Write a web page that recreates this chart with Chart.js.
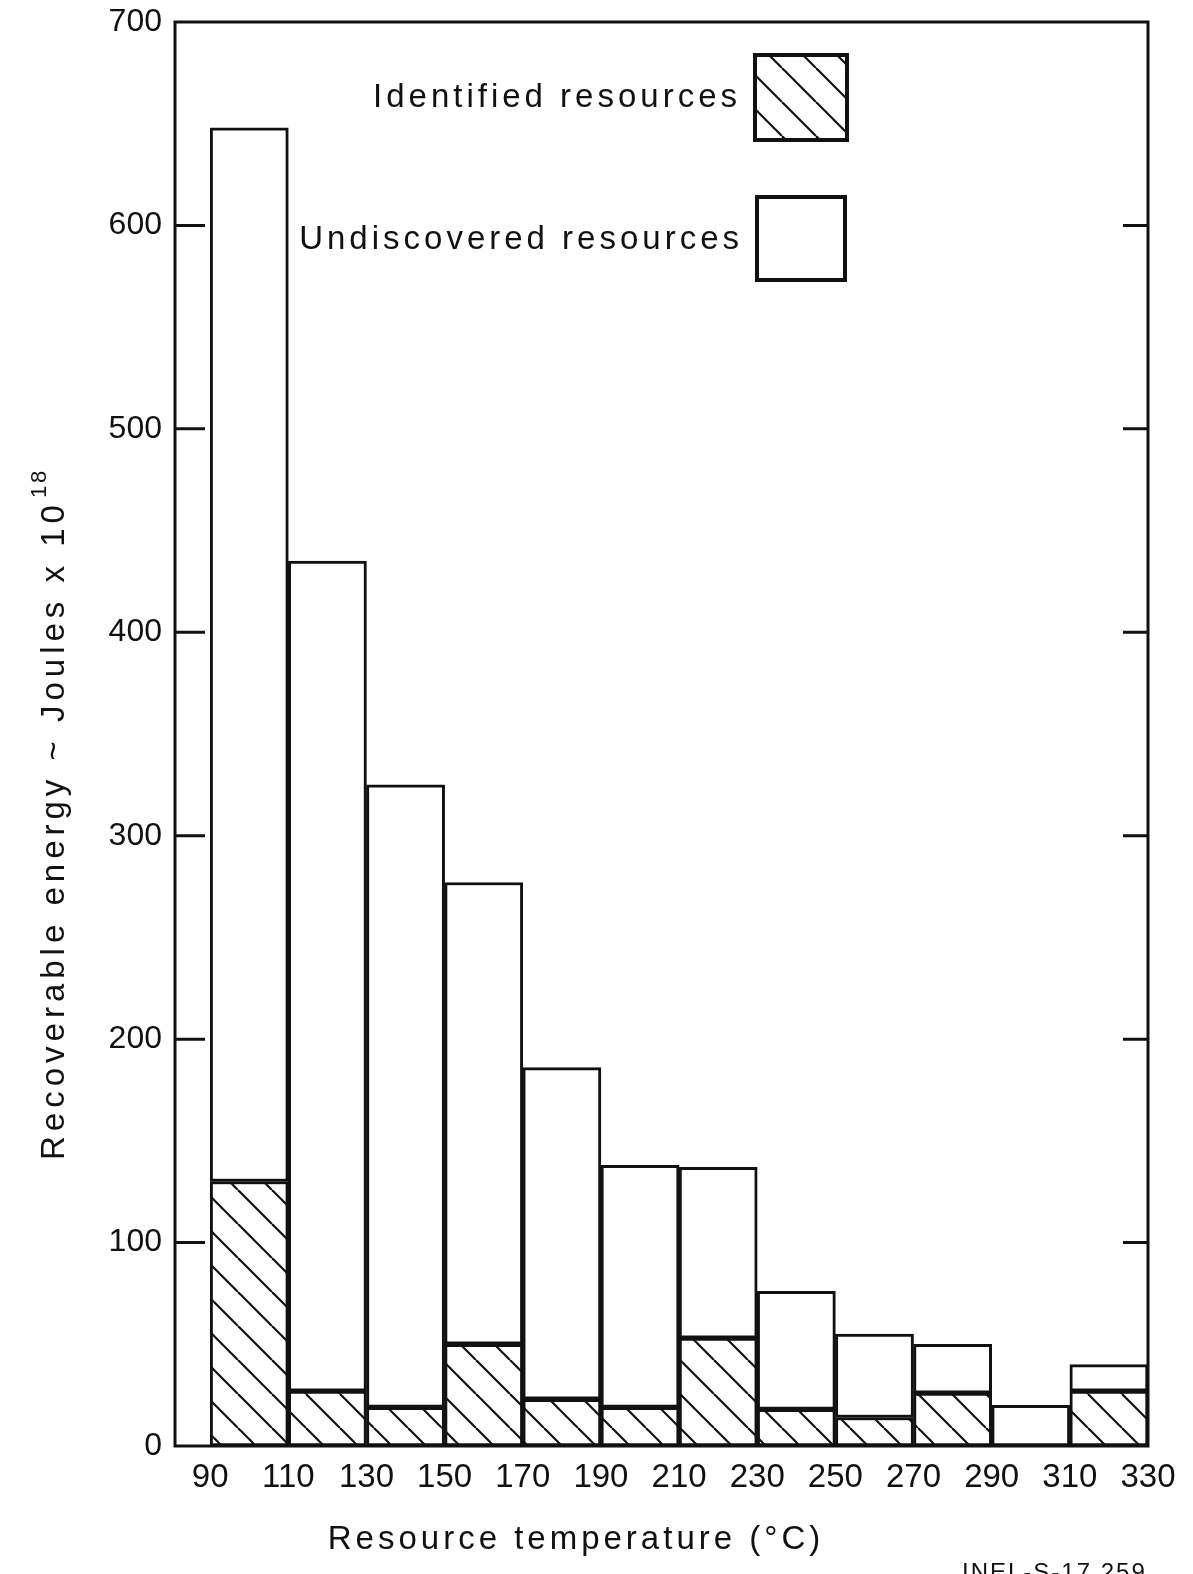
<!DOCTYPE html>
<html>
<head>
<meta charset="utf-8">
<title>Recoverable energy by resource temperature</title>
<script src="https://cdn.jsdelivr.net/npm/chart.js@4.4.0/dist/chart.umd.min.js"></script>
<style>
  html, body { margin: 0; padding: 0; background: #fff; }
  #wrap { width: 1193px; height: 1574px; position: relative; }
</style>
</head>
<body>
<div id="wrap"><canvas id="resourceChart"></canvas></div>
<script>
// temperature bins (deg C), each 20 wide
const binStarts = [90, 110, 130, 150, 170, 190, 210, 230, 250, 270, 290, 310];
const binWidth = 20;
const tempTicks = [90, 110, 130, 150, 170, 190, 210, 230, 250, 270, 290, 310, 330];
const energyTicks = [0, 100, 200, 300, 400, 500, 600, 700];

// recoverable energy, joules x 10^18
const identified = [130, 27, 19, 50, 23, 19, 53, 18, 14, 26, 0, 27];
const undiscovered = [518, 408, 306, 227, 163, 119, 84, 58, 41, 24, 20, 13];

const seriesLabels = ['Identified resources', 'Undiscovered resources'];
const xTitle = 'Resource temperature (°C)';
const yTitle = 'Recoverable energy ~ Joules x 10';
const yTitleExp = '18';
const footerNote = 'INEL-S-17 259';

const INK = '#111';

function makeHatch() {
  const s = 34;
  const c = document.createElement('canvas');
  c.width = s;
  c.height = s;
  const g = c.getContext('2d');
  g.fillStyle = '#fff';
  g.fillRect(0, 0, s, s);
  g.strokeStyle = INK;
  g.lineWidth = 2.2;
  [-s, 0, s].forEach(k => {
    g.beginPath();
    g.moveTo(k, 0);
    g.lineTo(k + s, s);
    g.stroke();
  });
  return g.createPattern(c, 'repeat');
}

const hatch = makeHatch();

const toPoints = values => values.map((v, i) => ({ x: binStarts[i] + binWidth / 2, y: v }));

// frame, inward ticks, legend, axis titles
const paperPlugin = {
  id: 'paper',
  beforeDraw(chart) {
    const ctx = chart.ctx;
    ctx.save();
    ctx.fillStyle = '#fff';
    ctx.fillRect(0, 0, chart.width, chart.height);
    ctx.restore();
  },
  afterDraw(chart) {
    const { ctx, chartArea: a, scales } = chart;
    ctx.save();
    ctx.strokeStyle = INK;
    ctx.lineWidth = 3;
    ctx.strokeRect(a.left, a.top, a.right - a.left, a.bottom - a.top);

    // inward tick marks on both sides
    energyTicks.slice(1, -1).forEach(v => {
      const y = scales.y.getPixelForValue(v);
      ctx.beginPath();
      ctx.moveTo(a.left, y);
      ctx.lineTo(a.left + 30, y);
      ctx.moveTo(a.right - 25, y);
      ctx.lineTo(a.right, y);
      ctx.stroke();
    });

    // legend, text to the left of the swatch
    ctx.fillStyle = INK;
    ctx.font = '33px "Liberation Sans", Arial, sans-serif';
    ctx.letterSpacing = '4px';
    ctx.textAlign = 'right';
    ctx.textBaseline = 'middle';
    const rows = [
      { y: 98, box: [755, 55, 92, 85] },
      { y: 240, box: [757, 197, 88, 83] }
    ];
    chart.data.datasets.forEach((ds, i) => {
      const r = rows[i];
      ctx.fillStyle = INK;
      ctx.fillText(ds.label, r.box[0] - 14, r.y);
      ctx.fillStyle = ds.backgroundColor;
      ctx.fillRect(r.box[0], r.box[1], r.box[2], r.box[3]);
      ctx.lineWidth = 4;
      ctx.strokeRect(r.box[0], r.box[1], r.box[2], r.box[3]);
    });

    // x title
    ctx.fillStyle = INK;
    ctx.font = '33px "Liberation Sans", Arial, sans-serif';
    ctx.letterSpacing = '4px';
    ctx.textAlign = 'center';
    ctx.textBaseline = 'middle';
    ctx.fillText(xTitle, 576, 1540);

    // y title, rotated, with superscript exponent
    ctx.save();
    ctx.translate(55, 1160);
    ctx.rotate(-Math.PI / 2);
    ctx.textAlign = 'left';
    ctx.textBaseline = 'middle';
    ctx.font = '33px "Liberation Sans", Arial, sans-serif';
    ctx.letterSpacing = '5px';
    ctx.fillText(yTitle, 0, 0);
    const w = ctx.measureText(yTitle).width;
    ctx.font = '22px "Liberation Sans", Arial, sans-serif';
    ctx.letterSpacing = '3px';
    ctx.fillText(yTitleExp, w + 2, -15);
    ctx.restore();

    // plate number, cut off at the page edge
    ctx.font = '24px "Liberation Sans Narrow", "Liberation Sans", sans-serif';
    ctx.letterSpacing = '2px';
    ctx.textAlign = 'left';
    ctx.textBaseline = 'alphabetic';
    ctx.fillText(footerNote, 962, 1580);
    ctx.restore();
  }
};

document.addEventListener('DOMContentLoaded', () => {
  const canvas = document.getElementById('resourceChart');

  new Chart(canvas, {
    type: 'bar',
    data: {
      datasets: [
        {
          label: seriesLabels[0],
          data: toPoints(identified),
          backgroundColor: hatch,
          borderColor: INK,
          borderWidth: 3,
          borderSkipped: false,
          barPercentage: 1,
          categoryPercentage: 1
        },
        {
          label: seriesLabels[1],
          data: toPoints(undiscovered),
          backgroundColor: '#fff',
          borderColor: INK,
          borderWidth: 3,
          borderSkipped: false,
          barPercentage: 1,
          categoryPercentage: 1
        }
      ]
    },
    options: {
      responsive: true,
      maintainAspectRatio: false,
      animation: false,
      layout: { padding: { top: 22, right: 45, left: 0, bottom: 0 } },
      scales: {
        x: {
          type: 'linear',
          stacked: true,
          offset: false,
          min: 81,
          max: 330,
          grid: { display: false, drawTicks: false },
          border: { display: false },
          afterBuildTicks: scale => {
            scale.ticks = tempTicks.map(v => ({ value: v }));
          },
          afterFit: scale => {
            scale.height = 128;
            scale.paddingLeft = 0;
            scale.paddingRight = 0;
          },
          ticks: {
            autoSkip: false,
            maxRotation: 0,
            padding: 12,
            color: INK,
            font: { family: '"Liberation Sans Narrow", "Liberation Sans", sans-serif', size: 33 },
            callback: v => String(v)
          }
        },
        y: {
          stacked: true,
          min: 0,
          max: 700,
          grid: { display: false, drawTicks: false },
          border: { display: false },
          afterFit: scale => {
            scale.width = 175;
            scale.paddingTop = 0;
            scale.paddingBottom = 0;
          },
          ticks: {
            stepSize: 100,
            padding: 13,
            color: INK,
            font: { family: '"Liberation Sans", Arial, sans-serif', size: 32 }
          }
        }
      },
      plugins: {
        legend: { display: false },
        tooltip: { enabled: false }
      }
    },
    plugins: [paperPlugin]
  });
});
</script>
</body>
</html>
